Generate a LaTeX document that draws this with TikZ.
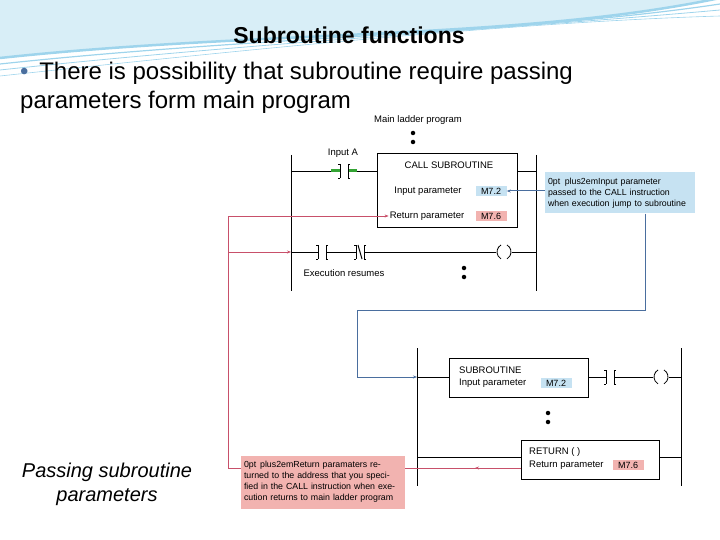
\documentclass[tikz,border=0pt]{standalone}
\usepackage{fontspec}
\setmainfont{Liberation Sans}
\usetikzlibrary{arrows.meta,positioning,calc}
\definecolor{notebl}{HTML}{C6E2F2}
\definecolor{notered}{HTML}{F2B3B0}
\definecolor{linkbl}{HTML}{4A6E9E}
\definecolor{linkrd}{HTML}{C8506A}
\definecolor{swoosh}{HTML}{9ED4EC}
\tikzset{%
  rail/.style={draw, thick, black},
  rung/.style={draw, black, line width=.8pt},
  blk/.style={draw, thick, fill=white, minimum width=#1, minimum height=39pt, inner sep=0pt},
  tag/.style={fill=notebl, font=\fontsize{9}{10}\selectfont, inner sep=2pt, minimum width=31pt},
  lbl/.style={font=\fontsize{9.5}{10}\selectfont, inner sep=1pt},
  note/.style={font=\fontsize{8.8}{11}\selectfont\hyphenpenalty=10000, align=center, inner sep=3pt},
  bluelink/.style={draw, linkbl, line width=1pt, -{Stealth[length=4pt]}},
  redlink/.style={draw, linkrd, line width=.8pt, -{Stealth[length=4pt]}},
  dotty/.style={circle, fill=black, inner sep=0pt, minimum size=4.5pt},
}
\newcommand{\nocontact}[1]{%
  \draw[line width=1pt] ($(#1)+(-4,-7)$) -- ($(#1)+(-4,7)$) ($(#1)+(4,-7)$) -- ($(#1)+(4,7)$);
  \draw[line width=.7pt] ($(#1)+(-6,-7)$) -- ($(#1)+(-4,-7)$) ($(#1)+(-6,7)$) -- ($(#1)+(-4,7)$)
    ($(#1)+(6,-7)$) -- ($(#1)+(4,-7)$) ($(#1)+(6,7)$) -- ($(#1)+(4,7)$);}
\newcommand{\coil}[1]{%
  \draw[line width=.8pt] ($(#1)+(-3,-7)$) arc[start angle=-120, end angle=-240, radius=8]
    ($(#1)+(3,-7)$) arc[start angle=-60, end angle=60, radius=8];}
\begin{document}
\begin{tikzpicture}[x=1pt, y=-1pt]
  \useasboundingbox (0,0) rectangle (720,540);
  % top swooshes
  \fill[swoosh!40] (0,0) -- (0,58) .. controls (260,30) and (520,40) .. (720,-2) -- cycle;
  \foreach \s/\w in {0/2.5, 6/1.2, 12/.8, 18/.6}
    \draw[swoosh, line width=\w pt] (0,{58+\s}) .. controls (260,{30+\s}) and (520,{40-\s}) .. (720,{-2+\s});

  % texts
  \node[font=\bfseries\fontsize{23}{26}\selectfont] (title) at (349,35) {Subroutine functions};
  \node[font=\fontsize{24}{29}\selectfont, align=left, anchor=north west, inner sep=0pt] (intro) at (20,62)
    {{\color{linkbl}\textbullet}\, There is possibility that subroutine require passing\\parameters form main program};
  \node[font=\itshape\fontsize{20}{24}\selectfont, align=center] (caption) at (107,484)
    {Passing subroutine\\parameters};

  % main ladder program
  \node[lbl] (mainlbl) at (418,120) {Main ladder program};
  \node[dotty] (md1) at (413,133) {};
  \node[dotty] (md2) at (413,142) {};
  \coordinate (mlt) at (291,155); \coordinate (mlb) at (291,291);
  \coordinate (mrt) at (536,155); \coordinate (mrb) at (536,291);
  \draw[rail] (mlt) -- (mlb) (mrt) -- (mrb);

  \node[blk=140pt, minimum height=74pt, anchor=north west] (call) at (377,153) {};
  \node[lbl] (callt) at (449,165) {CALL SUBROUTINE};
  \node[lbl] (inpar) at (428,191) {Input parameter};
  \node[tag] (m72a) at (491,191) {M7.2};
  \node[lbl] (retpar) at (427,216) {Return parameter};
  \node[tag, fill=notered] (m76a) at (491,216) {M7.6};

  \coordinate (ina) at (344,171);
  \node[lbl] (inalbl) at (343,153) {Input A};
  \draw[rung] (mlt |- ina) -- ($(ina)+(-4,0)$) ($(ina)+(4,0)$) -- (call.west |- ina);
  \draw[line width=3pt, green!55!black!80] ($(ina)+(-13,0)$) -- ($(ina)+(-4,0)$) ($(ina)+(4,0)$) -- ($(ina)+(13,0)$);
  \nocontact{ina}
  \draw[rung] (call.east |- ina) -- (mrt |- ina);

  \coordinate (ex1) at (322,252); \coordinate (ex2) at (360,252); \coordinate (exc) at (504,252);
  \draw[rung] (mlt |- ex1) -- ($(ex1)+(-4,0)$) ($(ex1)+(4,0)$) -- ($(ex2)+(-4,0)$)
    ($(ex2)+(4,0)$) -- ($(exc)+(-8,0)$) ($(exc)+(8,0)$) -- (mrt |- exc);
  \nocontact{ex1}
  \nocontact{ex2}
  \draw[line width=1pt] ($(ex2)+(-2,-7)$) -- ($(ex2)+(2,7)$);
  \coil{exc}
  \node[lbl] (exlbl) at (344,273) {Execution resumes};
  \node[dotty] (ed1) at (464,268) {};
  \node[dotty] (ed2) at (464,277) {};

  \node[note, fill=notebl, text width=144pt, minimum height=41pt] (bnote) at (620,193)
    {Input parameter passed to the CALL instruction when execution jump to subroutine};

  % subroutine
  \coordinate (slt) at (417,348); \coordinate (slb) at (417,486);
  \coordinate (srt) at (681,348); \coordinate (srb) at (681,486);
  \draw[rail] (slt) -- (slb) (srt) -- (srb);

  \node[blk=139pt, anchor=north west] (sub) at (449,358) {};
  \node[lbl, anchor=west] (subt) at (458,370) {SUBROUTINE};
  \node[lbl, anchor=west] (subin) at (458,383) {Input parameter};
  \node[tag] (m72b) at (556,383) {M7.2};
  \coordinate (sc) at (610,377); \coordinate (scl) at (661,377);
  \draw[rung] (slt |- sc) -- (sub.west |- sc) (sub.east |- sc) -- ($(sc)+(-4,0)$)
    ($(sc)+(4,0)$) -- ($(scl)+(-8,0)$) ($(scl)+(8,0)$) -- (srt |- scl);
  \nocontact{sc}
  \coil{scl}
  \node[dotty] (sd1) at (548,413) {};
  \node[dotty] (sd2) at (548,422) {};

  \node[blk=138pt, anchor=north west] (ret) at (521,440) {};
  \node[lbl, anchor=west] (rett) at (528,452) {RETURN ( )};
  \node[lbl, anchor=west] (retin) at (528,465) {Return parameter};
  \node[tag, fill=notered] (m76b) at (628,465) {M7.6};
  \draw[rung] (slt |- 0,457) -- (ret.west |- 0,457) (ret.east |- 0,457) -- (srt |- 0,457);

  % links
  \coordinate (rc) at (228,468);
  \draw[redlink, -] (ret.west |- rc) -- (rc);
  \draw[redlink] (ret.west |- rc) -- (475,468);
  \node[note, fill=notered, text width=158pt, minimum height=53pt] (rnote) at (323,482)
    {Return paramaters returned to the address that you specified in the CALL instruction when execution returns to main ladder program};
  \draw[redlink] (rc) -- (rc |- retpar) -- (retpar.west);
  \draw[redlink] (rc |- ex1) -- (mlt |- ex1);
  \draw[bluelink] (bnote.west |- m72a) -- (m72a.east);
  \draw[bluelink] (bnote.south -| 645,0) -- (645,310) -- (357,310) -- (357,377) -- (slt |- sc);
\end{tikzpicture}
\end{document}
